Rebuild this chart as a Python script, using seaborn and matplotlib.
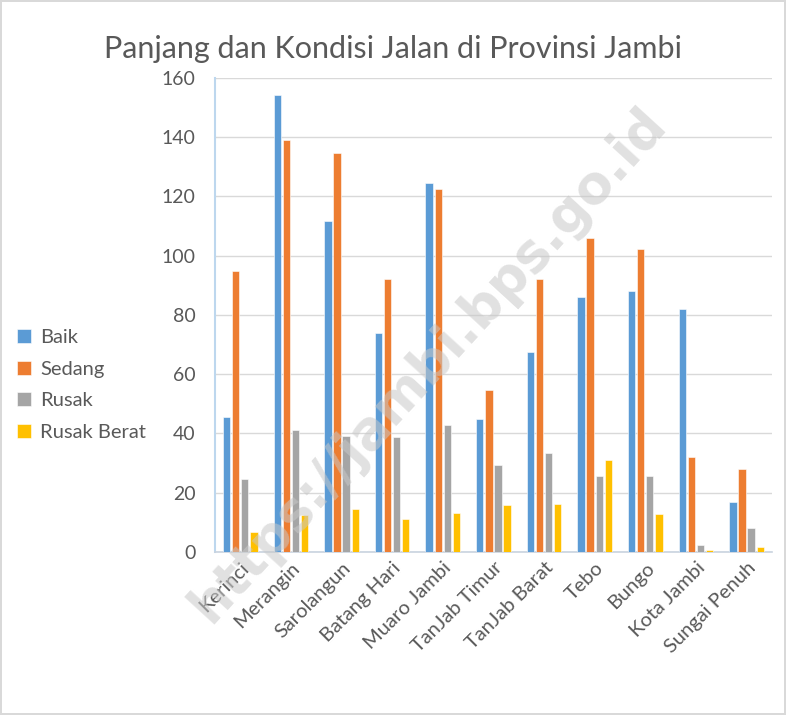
import matplotlib
matplotlib.use("Agg")
import matplotlib.pyplot as plt
import numpy as np
import pandas as pd
import seaborn as sns

kabupaten = ['Kerinci', 'Merangin', 'Sarolangun', 'Batang Hari', 'Muaro Jambi',
             'TanJab Timur', 'TanJab Barat', 'Tebo', 'Bungo', 'Kota Jambi', 'Sungai Penuh']
baik = [45.5, 154.1, 111.8, 73.8, 124.7, 44.8, 67.6, 85.9, 88.0, 81.9, 17.0]
sedang = [94.9, 138.9, 134.7, 92.2, 122.6, 54.7, 92.3, 106.0, 102.4, 32.1, 28.0]
rusak = [24.6, 41.3, 39.2, 38.9, 42.8, 29.3, 33.3, 25.6, 25.5, 2.5, 8.2]
rusak_berat = [6.8, 12.6, 14.6, 11.1, 13.0, 15.9, 16.3, 31.1, 12.8, 0.8, 1.7]

kondisi = ['Baik', 'Sedang', 'Rusak', 'Rusak Berat']
warna = ['#5B9BD5', '#ED7D31', '#A5A5A5', '#FFC000']

df = pd.DataFrame({'Kabupaten': kabupaten, 'Baik': baik, 'Sedang': sedang,
                   'Rusak': rusak, 'Rusak Berat': rusak_berat})
long_df = df.melt(id_vars='Kabupaten', var_name='Kondisi', value_name='Panjang')

sns.set_style('white')
plt.rcParams['font.family'] = ['Lato', 'DejaVu Sans']
text_color = '#595959'

fig = plt.figure(figsize=(7.86, 7.15), dpi=100)
fig.patch.set_edgecolor('#d9d9d9')
fig.patch.set_linewidth(1.5)
ax = fig.add_axes([0.2735, 0.228, 0.7085, 0.663])

sns.barplot(data=long_df, x='Kabupaten', y='Panjang', hue='Kondisi',
            hue_order=kondisi, palette=warna, saturation=1, width=0.72, gap=0.2,
            edgecolor='white', linewidth=0.4, ax=ax, zorder=3)

ax.set_ylim(0, 160)
ax.set_xlim(-0.5, len(kabupaten) - 0.5)
ax.set_yticks(np.arange(0, 161, 20))
ax.yaxis.grid(True, color='#d9d9d9', linewidth=1.0, zorder=0)
ax.set_axisbelow(True)
ax.set_xlabel('')
ax.set_ylabel('')
for s in ['top', 'right']:
    ax.spines[s].set_visible(False)
ax.spines['left'].set_color('#bdd7ee')
ax.spines['left'].set_linewidth(1.5)
ax.spines['bottom'].set_color('#c9d3df')
ax.spines['bottom'].set_linewidth(1.2)
ax.tick_params(axis='y', length=0, labelsize=14, colors=text_color, pad=14)
ax.tick_params(axis='x', length=0, labelsize=14.5, colors=text_color, pad=5)
ax.set_xticks(range(len(kabupaten)))
ax.set_xticklabels(kabupaten, rotation=45, ha='right', va='top',
                   rotation_mode='anchor', fontsize=14.5, color=text_color)

ax.legend_.remove()
handles, labels = ax.get_legend_handles_labels()
fig.legend(handles, labels, loc='center left', bbox_to_anchor=(0.022, 0.4615),
           frameon=False, fontsize=14.5, labelcolor=text_color,
           handlelength=0.7, handleheight=0.7, handletextpad=0.45,
           labelspacing=0.72, borderaxespad=0, borderpad=0)

fig.text(0.5, 0.931, 'Panjang dan Kondisi Jalan di Provinsi Jambi',
         ha='center', va='center', fontsize=22, color=text_color)

fig.text(0.545, 0.49, 'https://jambi.bps.go.id', rotation=47.5,
         ha='center', va='center', fontsize=38, fontweight='bold',
         color='#c8c8c8', alpha=0.55, family=['DejaVu Sans'], zorder=10)

fig.savefig('out.png', dpi=100)
